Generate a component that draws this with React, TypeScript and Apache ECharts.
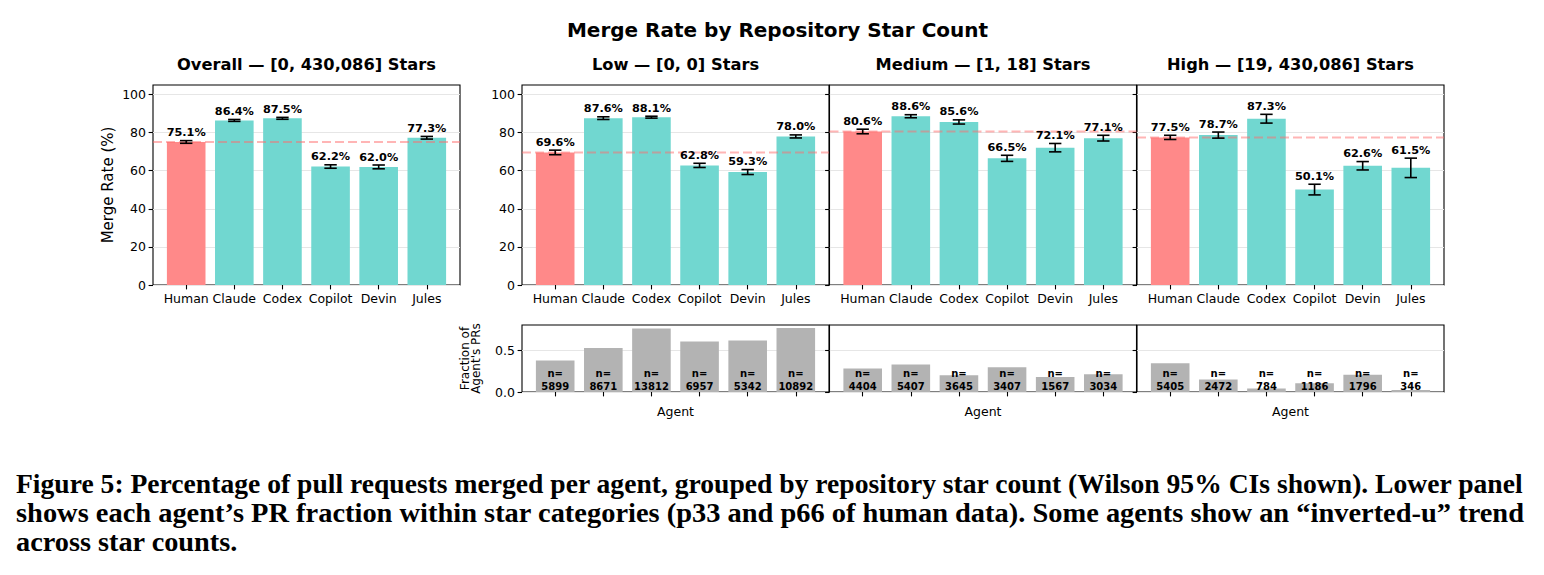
import React, { useEffect, useRef } from 'react';
import * as echarts from 'echarts';

const agents = ['Human', 'Claude', 'Codex', 'Copilot', 'Devin', 'Jules'];
const suptitle = 'Merge Rate by Repository Star Count';
const panelTitles = [
  'Overall — [0, 430,086] Stars',
  'Low — [0, 0] Stars',
  'Medium — [1, 18] Stars',
  'High — [19, 430,086] Stars',
];
const overallRate = [75.1, 86.4, 87.5, 62.2, 62.0, 77.3];
const lowRate = [69.6, 87.6, 88.1, 62.8, 59.3, 78.0];
const mediumRate = [80.6, 88.6, 85.6, 66.5, 72.1, 77.1];
const highRate = [77.5, 78.7, 87.3, 50.1, 62.6, 61.5];
const overallCI = [0.7, 0.5, 0.5, 0.9, 1.0, 0.7];
const lowCI = [1.2, 0.7, 0.5, 1.1, 1.3, 0.8];
const mediumCI = [1.2, 0.8, 1.1, 1.6, 2.2, 1.5];
const highCI = [1.1, 1.6, 2.3, 2.8, 2.2, 5.1];
const lowCount = [5899, 8671, 13812, 6957, 5342, 10892];
const mediumCount = [4404, 5407, 3645, 3407, 1567, 3034];
const highCount = [5405, 2472, 784, 1186, 1796, 346];
const lowFraction = [0.376, 0.524, 0.757, 0.602, 0.614, 0.763];
const mediumFraction = [0.28, 0.327, 0.2, 0.295, 0.18, 0.213];
const highFraction = [0.344, 0.149, 0.043, 0.103, 0.206, 0.024];
const rateTicks = [0, 20, 40, 60, 80, 100];
const fractionTicks = [0, 0.5];
const captionLines = [
  'Figure 5: Percentage of pull requests merged per agent, grouped by repository star count (Wilson 95% CIs shown). Lower panel',
  'shows each agent’s PR fraction within star categories (p33 and p66 of human data). Some agents show an “inverted-u” trend',
  'across star counts.',
];

const HUMAN_COLOR = '#FF8989';
const AGENT_COLOR = '#71D7D0';
const GRAY = '#B3B3B3';
const FONT = '"DejaVu Sans", sans-serif';
const XMIN = -0.69;
const XMAX = 5.69;

export default function App() {
  const ref = useRef<HTMLDivElement>(null);
  useEffect(() => {
    if (!ref.current) return;
    const chart = echarts.init(ref.current, null, { renderer: 'svg' });

    const panelLeft = [153, 522, 829.5, 1137];
    const panelW = 307;
    const upTop = 85;
    const upH = 200;
    const loTop = 325;
    const loH = 67;
    const rates = [overallRate, lowRate, mediumRate, highRate];
    const cis = [overallCI, lowCI, mediumCI, highCI];
    const counts = [lowCount, mediumCount, highCount];
    const fracs = [lowFraction, mediumFraction, highFraction];
    const idx = agents.map((_, i) => i);

    const grids: any[] = [];
    const xAxes: any[] = [];
    const yAxes: any[] = [];
    const series: any[] = [];

    const gridBase = { show: true, borderColor: '#000', borderWidth: 1.1, backgroundColor: 'transparent' };
    const tickStyle = { color: '#000', width: 1.1 };

    for (let p = 0; p < 4; p++) {
      grids.push({ ...gridBase, left: panelLeft[p], top: upTop, width: panelW, height: upH });
      xAxes.push({
        type: 'value', gridIndex: p, min: XMIN, max: XMAX,
        axisLine: { show: false, onZero: false }, splitLine: { show: false },
        axisTick: { show: true, customValues: idx, length: 4.4, lineStyle: tickStyle },
        axisLabel: { show: true, customValues: idx, formatter: (v: number) => agents[Math.round(v)],
          fontSize: 12.5, color: '#000', margin: 7, fontFamily: FONT },
      });
      yAxes.push({
        type: 'value', gridIndex: p, min: 0, max: 105, interval: 20,
        axisLine: { show: false, onZero: false },
        axisTick: { show: true, customValues: rateTicks, length: 4.4, lineStyle: tickStyle },
        axisLabel: { show: p < 2, customValues: rateTicks, fontSize: 12.5, color: '#000', margin: 7, fontFamily: FONT },
        splitLine: { show: true, lineStyle: { color: '#e6e6e6', width: 1 } },
      });
      const r = rates[p];
      const ci = cis[p];
      series.push({
        type: 'bar', xAxisIndex: p, yAxisIndex: p, barWidth: 38.6, z: 2, silent: true,
        data: r.map((v, i) => ({ value: [i, v], itemStyle: { color: i === 0 ? HUMAN_COLOR : AGENT_COLOR } })),
      });
      series.push({
        type: 'line', xAxisIndex: p, yAxisIndex: p, symbol: 'none', z: 3, silent: true,
        data: [[XMIN, r[0]], [XMAX, r[0]]],
        lineStyle: { color: 'rgba(255,107,107,0.5)', width: 2, type: [9, 4] },
      });
      series.push({
        type: 'custom', xAxisIndex: p, yAxisIndex: p, z: 4, silent: true,
        encode: { x: 0, y: 1 },
        data: r.map((v, i) => [i, v, v - ci[i], v + ci[i]]),
        renderItem: (params: any, api: any) => {
          const x = api.value(0);
          const v = api.value(1);
          const lo = api.coord([x, api.value(2)]);
          const hi = api.coord([x, api.value(3)]);
          const cap = 6.2;
          const st = { stroke: '#000', lineWidth: 1.6 };
          return {
            type: 'group',
            children: [
              { type: 'line', shape: { x1: lo[0], y1: lo[1], x2: hi[0], y2: hi[1] }, style: st },
              { type: 'line', shape: { x1: lo[0] - cap, y1: lo[1], x2: lo[0] + cap, y2: lo[1] }, style: st },
              { type: 'line', shape: { x1: hi[0] - cap, y1: hi[1], x2: hi[0] + cap, y2: hi[1] }, style: st },
              {
                type: 'text', x: hi[0], y: hi[1] - 2.5,
                style: { text: v.toFixed(1) + '%', fill: '#000', font: 'bold 11.25px ' + FONT, align: 'center', verticalAlign: 'bottom' },
              },
            ],
          };
        },
      });
    }

    for (let k = 0; k < 3; k++) {
      const g = 4 + k;
      grids.push({ ...gridBase, left: panelLeft[k + 1], top: loTop, width: panelW, height: loH });
      xAxes.push({
        type: 'value', gridIndex: g, min: XMIN, max: XMAX,
        axisLine: { show: false, onZero: false }, splitLine: { show: false },
        axisTick: { show: true, customValues: idx, length: 4.4, lineStyle: tickStyle },
        axisLabel: { show: false },
      });
      yAxes.push({
        type: 'value', gridIndex: g, min: 0, max: 0.8, interval: 0.5,
        axisLine: { show: false, onZero: false },
        axisTick: { show: true, customValues: fractionTicks, length: 4.4, lineStyle: tickStyle },
        axisLabel: { show: k === 0, customValues: fractionTicks, formatter: (v: number) => v.toFixed(1),
          fontSize: 12.5, color: '#000', margin: 7, fontFamily: FONT },
        splitLine: { show: true, lineStyle: { color: '#e6e6e6', width: 1 } },
      });
      series.push({
        type: 'bar', xAxisIndex: g, yAxisIndex: g, barWidth: 38.6, z: 2, silent: true,
        itemStyle: { color: GRAY },
        data: fracs[k].map((v, i) => [i, v]),
      });
      series.push({
        type: 'custom', xAxisIndex: g, yAxisIndex: g, z: 4, silent: true,
        encode: { x: 0, y: 1 },
        data: counts[k].map((n, i) => [i, 0, n]),
        renderItem: (params: any, api: any) => {
          const pt = api.coord([api.value(0), 0]);
          return {
            type: 'text', x: pt[0], y: pt[1] + 1,
            style: { text: 'n=\n' + api.value(2), fill: '#000', font: 'bold 10px ' + FONT, align: 'center', verticalAlign: 'bottom', lineHeight: 13 },
          };
        },
      });
    }

    const measure = (text: string, font: string) => {
      const c = document.createElement('canvas').getContext('2d');
      if (!c) return 1;
      c.font = font;
      return c.measureText(text).width;
    };
    const capFont = 'bold 27.5px "Liberation Serif", serif';
    const capTargets = [1509, 1509, 222];
    const capBaselines = [493, 522, 551];

    const graphic: any[] = [
      { type: 'text', x: 777.5, y: 30, style: { text: suptitle, font: 'bold 20px ' + FONT, fill: '#000', align: 'center', verticalAlign: 'middle' } },
      ...panelTitles.map((t, p) => ({
        type: 'text', x: panelLeft[p] + panelW / 2, y: 64.3,
        style: { text: t, font: 'bold 16.25px ' + FONT, fill: '#000', align: 'center', verticalAlign: 'middle' },
      })),
      { type: 'text', x: 108, y: upTop + upH / 2, rotation: Math.PI / 2,
        style: { text: 'Merge Rate (%)', font: '15px ' + FONT, fill: '#000', align: 'center', verticalAlign: 'middle' } },
      { type: 'text', x: 470.5, y: loTop + loH / 2, rotation: Math.PI / 2,
        style: { text: 'Fraction of\nAgent\'s PRs', font: '12px ' + FONT, fill: '#000', align: 'center', verticalAlign: 'middle', lineHeight: 11.5 } },
      ...[1, 2, 3].map((p) => ({
        type: 'text', x: panelLeft[p] + panelW / 2, y: 411,
        style: { text: 'Agent', font: '12.5px ' + FONT, fill: '#000', align: 'center', verticalAlign: 'middle' },
      })),
      ...captionLines.map((t, i) => ({
        type: 'text', x: 16, y: capBaselines[i] - 9.4, scaleX: capTargets[i] / measure(t, capFont),
        style: { text: t, font: capFont, fill: '#000', align: 'left', verticalAlign: 'middle' },
      })),
    ];

    chart.setOption({
      animation: false,
      backgroundColor: '#fff',
      textStyle: { fontFamily: FONT },
      grid: grids,
      xAxis: xAxes,
      yAxis: yAxes,
      series,
      graphic,
    });
    return () => chart.dispose();
  }, []);
  return <div ref={ref} style={{ position: 'absolute', left: 0, top: 0, width: 1544, height: 575, background: '#fff' }} />;
}
